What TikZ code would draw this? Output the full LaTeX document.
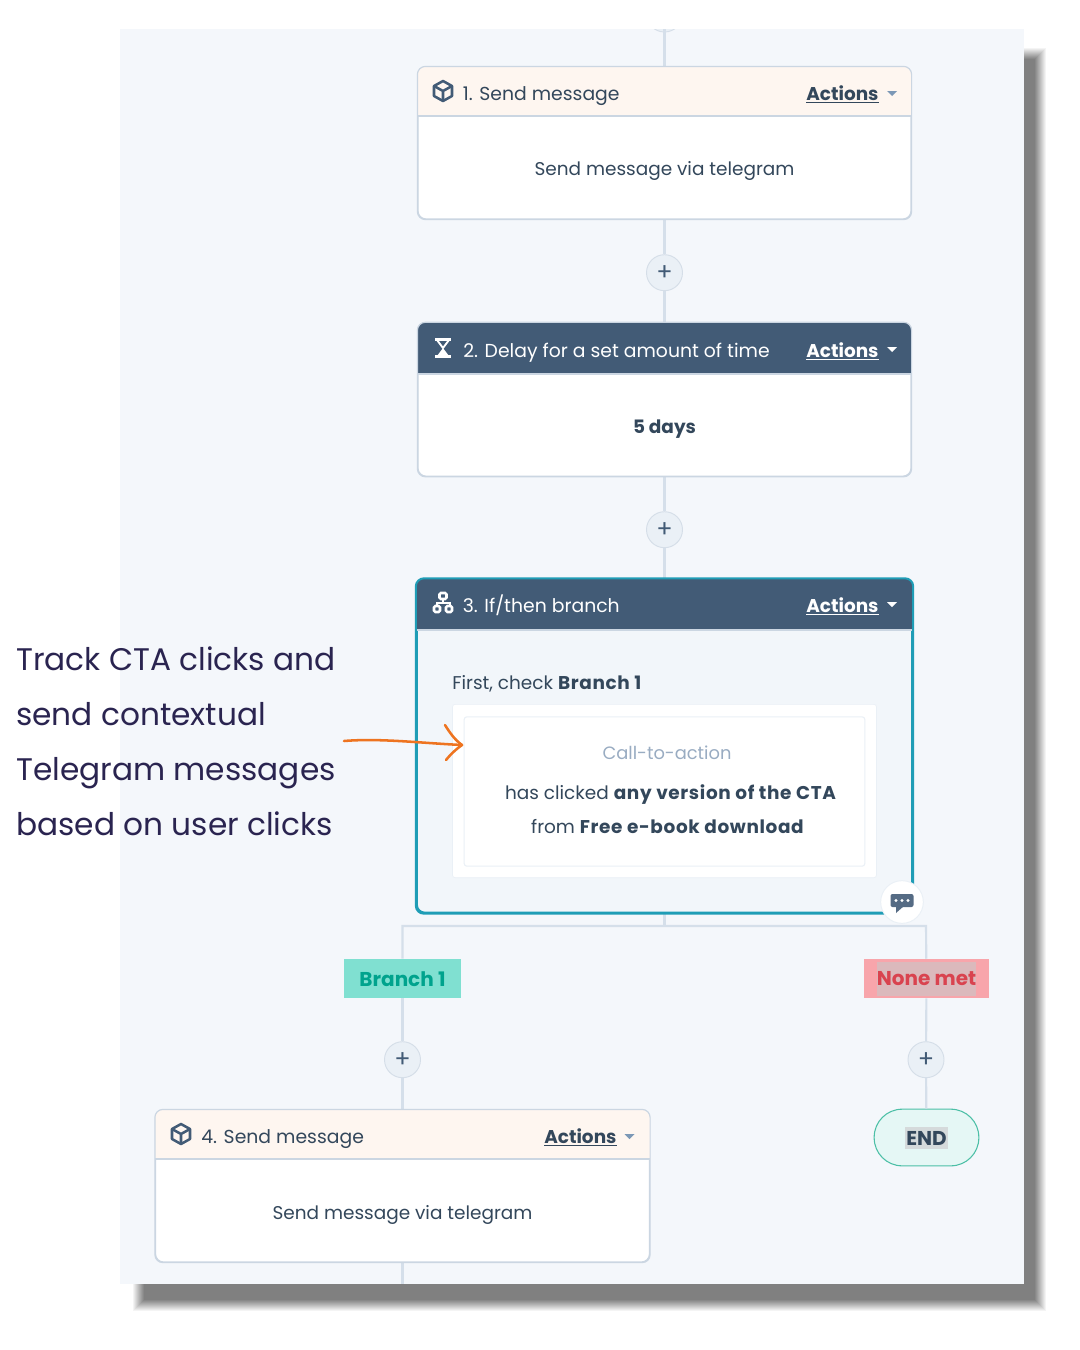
\documentclass[tikz,border=0pt]{standalone}
\usepackage{fontspec}
\setmainfont{Poppins}
\newfontfamily\handfont{Poppins}
\newcommand{\wb}[1]{{\bfseries\addfontfeatures{LetterSpace=3.4}#1}}
\definecolor{panel}{HTML}{F4F7FB}
\definecolor{ink}{HTML}{33475B}
\definecolor{dark}{HTML}{425B76}
\definecolor{cream}{HTML}{FEF6F0}
\definecolor{edge}{HTML}{CBD6E2}
\definecolor{wire}{HTML}{D5DFEA}
\definecolor{teal}{HTML}{1F9DB6}
\definecolor{plusfill}{HTML}{EAF0F6}
\definecolor{handink}{HTML}{2A2450}
\definecolor{orangeline}{HTML}{EE7420}
\definecolor{caretl}{HTML}{7C98B6}
\definecolor{ctatx}{HTML}{99ACC2}
\definecolor{greenbg}{HTML}{80E0D1}
\definecolor{greentx}{HTML}{00A38D}
\definecolor{redbg}{HTML}{F8A5AB}
\definecolor{redin}{HTML}{DBB9BC}
\definecolor{redtx}{HTML}{D9434F}
\definecolor{endbg}{HTML}{E5F7F5}
\definecolor{endline}{HTML}{4CBFA6}
\definecolor{endin}{HTML}{D5DADB}
\tikzset{
  x=0.75pt,y=-0.75pt,
  cardbox/.style={draw=edge,line width=0.9pt,fill=white,rounded corners=6pt,inner sep=0pt},
  plusnode/.style={circle,draw=edge!80,line width=0.7pt,fill=plusfill,minimum size=27pt,inner sep=0pt,text=dark,font=\fontsize{18}{18}\selectfont},
  wireline/.style={draw=wire,line width=1.6pt},
  body/.style={anchor=base,text=ink,font=\fontsize{13.85}{17}\selectfont,inner sep=0pt},
  hd/.style={anchor=base west,inner sep=0pt,font=\fontsize{14.1}{17}\selectfont},
  act/.style={anchor=base west,inner sep=0pt,font=\fontsize{13.85}{17}\selectfont\bfseries},
  tag/.style={inner sep=0pt,font=\fontsize{15}{18}\selectfont\bfseries},
  iconline/.style={line width=1.9pt,line join=round},
}
\newcommand{\cardhead}[3]{% name, header bottom y, fill
  \begin{scope}
    \clip[rounded corners=6pt] (#1.north west) rectangle (#1.south east);
    \fill[#3] (#1.north west) rectangle (#1.east |- 0,#2);
  \end{scope}
  \draw[edge,line width=0.9pt] (#1.west |- 0,#2) -- (#1.east |- 0,#2);
}
\newcommand{\caret}[3]{\fill[#3] (#1-5,#2-2) -- (#1+5,#2-2) -- (#1,#2+3) -- cycle;}
\newcommand{\cube}[3]{%
  \begin{scope}[shift={(#1,#2)}]
    \draw[#3,iconline] (0,-10) -- (9,-5) -- (9,5) -- (0,10) -- (-9,5) -- (-9,-5) -- cycle;
    \draw[#3,iconline] (-9,-5) -- (0,0) -- (9,-5) (0,0) -- (0,10);
  \end{scope}}
\begin{document}
\begin{tikzpicture}
\useasboundingbox (0,0) rectangle (1080,1350);
\fill[white] (0,0) rectangle (1080,1350);
% soft shadow
\foreach \d/\o in {10/0.0833,9/0.0909,8/0.1,7/0.111,6/0.125,5/0.143,4/0.167,3/0.2,2/0.25,1/0.333,0/0.5,-1/1}{
  \fill[black!50,opacity=\o] (143-\d,58-\d) rectangle (1036+\d,1301+\d);
}
% panel
\fill[panel] (120,29) rectangle (1024,1284);
\coordinate (topend) at (664.5,29);
\coordinate (botend) at (402.5,1284);
\begin{scope}
  \clip (120,29) rectangle (1024,1284);
  \fill[plusfill,draw=edge!80,line width=0.7pt] (664.5,14) circle[radius=18];
\end{scope}

% cards
\node[cardbox,minimum width=369.75pt,minimum height=114pt] (c1) at (664.5,143) {};
\node[cardbox,minimum width=369.75pt,minimum height=115pt] (c2) at (664.5,399.5) {};
\node[cardbox,draw=teal,line width=1.5pt,fill=plusfill!60!white,minimum width=371.5pt,minimum height=250pt] (c3) at (664.5,746) {};
\node[cardbox,minimum width=370.5pt,minimum height=114pt] (c4) at (402.5,1186) {};

% plus nodes
\node[plusnode] (p1) at (664.5,272.7) {+};
\node[plusnode] (p2) at (664.5,529.7) {+};
\node[plusnode] (p3) at (402.5,1059.7) {+};
\node[plusnode] (p4) at (926,1059.7) {+};

% branch nodes
\node[inner sep=0pt] (split) at (664.5,926) {};
\node[inner sep=0pt] (splitl) at (402.5,926) {};
\node[inner sep=0pt] (splitr) at (926,926) {};
\node[fill=greenbg,inner sep=0pt,minimum width=88pt,minimum height=29.25pt] (b1) at (402.5,978.5) {};
\node[inner sep=0pt,minimum width=94pt,minimum height=29.25pt,fill=redbg] (b2) at (926.5,978.5) {};
\node[draw=endline,line width=0.8pt,fill=endbg,rounded corners=21pt,minimum width=78.5pt,minimum height=42.5pt,inner sep=0pt] (endn) at (926.5,1137.5) {};

% connectors
\draw[wireline] (topend) -- (c1);
\draw[wireline] (c1) -- (p1);
\draw[wireline] (p1) -- (c2);
\draw[wireline] (c2) -- (p2);
\draw[wireline] (p2) -- (c3);
\draw[wireline] (c3) -- (split.center);
\draw[wireline,line join=miter] (b1) -- (splitl.center) -- (splitr.center) -- (b2);
\draw[wireline] (b1) -- (p3);
\draw[wireline] (p3) -- (c4);
\draw[wireline] (b2) -- (p4);
\draw[wireline] (p4) -- (endn);
\draw[wireline] (c4) -- (botend);

% headers
\cardhead{c1}{116}{cream}
\cardhead{c2}{374}{dark}
\cardhead{c3}{630}{dark}
\cardhead{c4}{1159}{cream}
\draw[edge,line width=0.9pt,rounded corners=6pt] (c1.north west) rectangle (c1.south east);
\draw[edge,line width=0.9pt,rounded corners=6pt] (c2.north west) rectangle (c2.south east);
\draw[teal,line width=1.5pt,rounded corners=6pt] (c3.north west) rectangle (c3.south east);
\draw[edge,line width=0.9pt,rounded corners=6pt] (c4.north west) rectangle (c4.south east);

% card 1
\cube{443}{91}{dark}
\node[hd,text=ink] (t1) at (462.5,100) {1. Send message};
\node[act,text=ink] (a1) at (806,100) {\underline{Actions}};
\caret{892}{93}{caretl}
\node[body] (b1t) at (664.5,175) {Send message via telegram};

% card 2
\begin{scope}[shift={(443,348)}]
  \draw[white,line width=1.9pt] (-8,-8.5) -- (8,-8.5) (-8,8.5) -- (8,8.5);
  \draw[white,line width=1.4pt,line join=round] (-6,-8) -- (6,-8) -- (0,0) -- cycle;
  \fill[white] (-6,8) -- (0,0) -- (6,8) -- cycle;
\end{scope}
\node[hd,text=white] (t2) at (463,357) {2. Delay for a set amount of time};
\node[act,text=white] (a2) at (806,357) {\underline{Actions}};
\caret{892}{349}{white}
\node[body,font=\fontsize{13.85}{17}\selectfont\bfseries] (b2t) at (664.5,433) {5 days};

% card 3
\begin{scope}[shift={(443,603)}]
  \draw[white,line width=1.9pt,rounded corners=1pt] (-3.5,-10) rectangle (3.5,-4);
  \draw[white,line width=1.5pt] (0,-4) -- (0,0) (-6.5,3) -- (-6.5,0) -- (6.5,0) -- (6.5,3);
  \draw[white,line width=1.9pt,rounded corners=1pt] (-9,3) rectangle (-3,9);
  \draw[white,line width=1.9pt,rounded corners=1pt] (3,3) rectangle (9,9);
\end{scope}
\node[hd,text=white] (t3) at (462.5,612) {3. If/then branch};
\node[act,text=white] (a3) at (806,612) {\underline{Actions}};
\caret{892}{604}{white}
\node[body,anchor=base west] (first) at (452,689) {First, check \wb{Branch 1}};
\node[fill=white,draw=plusfill,line width=0.5pt,minimum width=318pt,minimum height=130pt,rounded corners=2pt,inner sep=0pt] (outer) at (664.5,791) {};
\node[fill=white,draw=plusfill,line width=0.8pt,minimum width=300.5pt,minimum height=112pt,rounded corners=2pt,inner sep=0pt] (inner) at (664.5,791.5) {};
\node[body,text=ctatx,font=\fontsize{13.4}{17}\selectfont] (cta) at (667,759) {Call-to-action};
\node[body] (cl1) at (670.5,799) {has clicked \wb{any version of the CTA}};
\node[body] (cl2) at (667.5,833) {from \wb{Free e-book download}};

% comment bubble
\node[circle,fill=white,draw=plusfill,line width=0.7pt,minimum size=32pt,inner sep=0pt] (bub) at (902,902) {};
\fill[dark!90!white,rounded corners=1.5pt] (890.5,894) rectangle (913.5,907);
\fill[dark!90!white] (896,906) -- (896,913) -- (904,906) -- cycle;
\foreach \q in {896,902,908}{\fill[white] (\q,900.5) circle[radius=1.6];}

% labels
\node[tag,text=greentx] (b1l) at (402.5,979) {Branch 1};
\node[tag,text=redtx,fill=redin,minimum height=25pt,minimum width=72pt] (b2l) at (926.5,979) {None met};
\node[tag,text=ink,fill=endin,minimum height=16.5pt,minimum width=32pt] (endl) at (926.5,1138) {END};

% card 4
\cube{181}{1134}{dark}
\node[hd,text=ink] (t4) at (201,1143) {4. Send message};
\node[act,text=ink] (a4) at (544,1143) {\underline{Actions}};
\caret{629.5}{1136}{caretl}
\node[body] (b4t) at (402.5,1219) {Send message via telegram};

% annotation
\node[anchor=north west,inner sep=0pt,align=left,text=handink,font=\handfont\fontsize{23.4}{41.25}\selectfont] (note) at (16,646) {Track CTA clicks and\\send contextual\\Telegram messages\\based on user clicks};
\coordinate (arrowstart) at (344,741);
\coordinate (arrowtip) at (462,745);
\draw[orangeline,line width=1.9pt,line cap=round,line join=round] (arrowstart) .. controls (380,738) and (420,743) .. (arrowtip);
\draw[orangeline,line width=1.9pt,line cap=round,line join=round] (445,725) .. controls (450,733) and (455,740) .. (arrowtip) .. controls (455,750) and (450,755) .. (446,760);
\end{tikzpicture}
\end{document}
